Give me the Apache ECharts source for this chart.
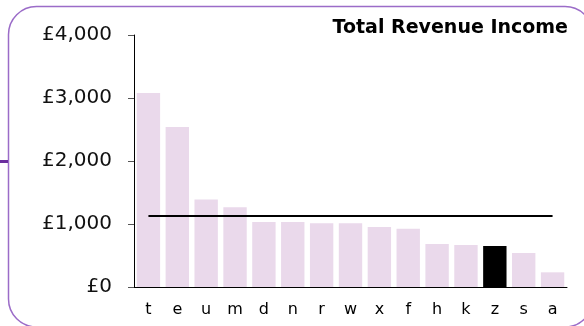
<!DOCTYPE html>
<html>
<head>
<meta charset="utf-8">
<style>
  html, body { margin: 0; padding: 0; background: #fff; }
  #chart { width: 584px; height: 326px; }
</style>
<script src="https://cdn.jsdelivr.net/npm/echarts@6/dist/echarts.min.js"></script>
</head>
<body>
<div id="chart"></div>
<script>
const categories = ['t', 'e', 'u', 'm', 'd', 'n', 'r', 'w', 'x', 'f', 'h', 'k', 'z', 's', 'a'];
const revenue = [3080, 2540, 1390, 1265, 1032, 1032, 1011, 1011, 952, 925, 683, 667, 651, 540, 233];
const highlighted = 'z';
const averageRevenue = 1138;
const yTicks = [0, 1000, 2000, 3000, 4000];

const FONT = 'DejaVu Sans';
const barColor = '#ead9eb';
const frameColor = '#9b6cc8';

const chart = echarts.init(document.getElementById('chart'), null, { renderer: 'canvas' });

const option = {
  animation: false,
  title: {
    text: 'Total Revenue Income',
    right: 11,
    top: 14,
    textStyle: { fontFamily: FONT, fontSize: 19, fontWeight: 'bold', color: '#000' }
  },
  grid: { left: 134, right: 17, top: 35, bottom: 39, containLabel: false },
  xAxis: {
    type: 'category',
    data: categories,
    boundaryGap: true,
    axisLine: { lineStyle: { color: '#000', width: 1 } },
    axisTick: { show: false },
    axisLabel: { fontFamily: FONT, fontSize: 16, color: '#000', margin: 15 }
  },
  yAxis: {
    type: 'value',
    min: yTicks[0],
    max: yTicks[yTicks.length - 1],
    interval: 1000,
    splitLine: { show: false },
    axisLine: { show: true, lineStyle: { color: '#000', width: 1 } },
    axisTick: { show: true, length: 6, lineStyle: { color: '#555' } },
    axisLabel: {
      fontFamily: FONT, fontSize: 20, color: '#111', margin: 22,
      formatter: v => '£' + v.toLocaleString('en-GB')
    }
  },
  series: [{
    type: 'bar',
    barCategoryGap: '19%',
    data: revenue.map((v, i) => ({
      value: v,
      itemStyle: { color: categories[i] === highlighted ? '#000' : barColor }
    })),
    markLine: {
      silent: true,
      symbol: 'none',
      label: { show: false },
      lineStyle: { color: '#000', width: 2, type: 'solid' },
      data: [[
        { coord: [categories[0], averageRevenue] },
        { coord: [categories[categories.length - 1], averageRevenue] }
      ]]
    }
  }],
  graphic: [
    {
      type: 'rect',
      silent: true,
      shape: { x: 8.5, y: 6.5, width: 584.5, height: 320.5, r: 28 },
      style: { fill: 'none', stroke: frameColor, lineWidth: 1.5 },
      z: -1
    },
    {
      type: 'rect',
      silent: true,
      shape: { x: 0, y: 160, width: 8, height: 3 },
      style: { fill: '#6b2f9e' }
    }
  ]
};

chart.setOption(option);
</script>
</body>
</html>
